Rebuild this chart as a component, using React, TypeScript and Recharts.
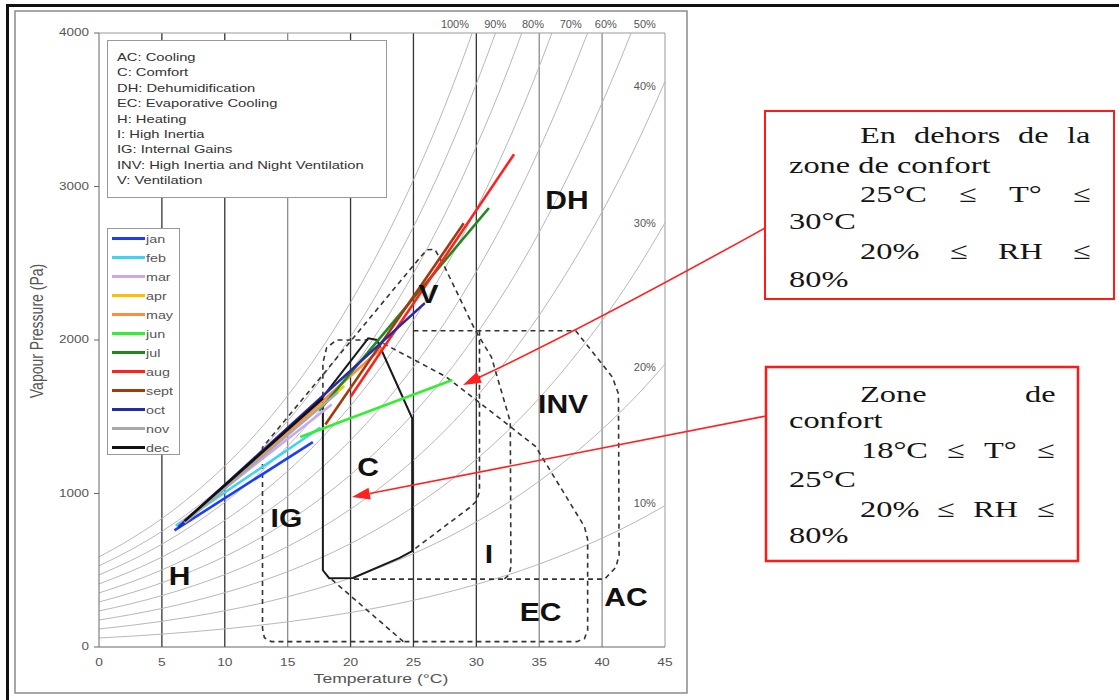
import React from "react"
import {
  ComposedChart,
  Line,
  ReferenceDot,
  ReferenceLine,
  XAxis,
  YAxis,
} from "recharts"

// axes
const tempTicks = [0, 5, 10, 15, 20, 25, 30, 35, 40, 45]
const tempMinorTicks = Array.from({ length: 46 }, (_, i) => i)
const pressureTicks = [0, 1000, 2000, 3000, 4000]
const pressureMinorTicks = Array.from({ length: 41 }, (_, i) => i * 100)

// vertical grid lines, as printed (some darker than others)
const gridDark = [5, 10, 20, 25, 30]
const gridLight = [15, 35, 40]

// 100 % curve (Pa), other RH curves are fractions of it
const satTemps = [0, 2.5, 5, 7.5, 10, 12.5, 15, 17.5, 20, 22.5, 25, 27.5, 30, 32.5, 35, 37.5, 40, 42.5, 45]
const satPressures = [587, 702, 837, 996, 1179, 1391, 1637, 1920, 2245, 2618, 3042, 3524, 4076, 4696, 5403, 6202, 7089, 8083, 9209]
const rhLevels = [10, 20, 30, 40, 50, 60, 70, 80, 90, 100]

// RH labels
const rhTopNames = ["100%", "90%", "80%", "70%", "60%", "50%"]
const rhTopTemps = [28.3, 31.5, 34.5, 37.5, 40.3, 43.4]
const rhTopPressure = 4059
const rhSideNames = ["40%", "30%", "20%", "10%"]
const rhSidePressures = [3654, 2765, 1824, 935]
const rhSideTemp = 43.4

// monthly lines (min temp / max temp ends)
const months = ["jan", "feb", "mar", "apr", "may", "jun", "jul", "aug", "sept", "oct", "nov", "dec"]
const monthColors = ["#1e3cff", "#40d4f4", "#c8a8f0", "#ffc000", "#ff8c40", "#33ee33", "#1e8a1e", "#ff2020", "#a03c10", "#2828a8", "#a8a8a8", "#111111"]
const monthStartT = [6.0, 6.1, 6.5, 7.5, 9.0, 16.0, 17.5, 20.0, 18.0, 6.3, 6.8, 6.8]
const monthStartP = [760, 790, 810, 870, 960, 1368, 1540, 1630, 1450, 780, 810, 820]
const monthEndT = [17.0, 17.6, 18.5, 19.5, 22.5, 28.1, 31.0, 33.0, 29.0, 25.9, 19.0, 17.8]
const monthEndP = [1335, 1430, 1580, 1700, 1950, 1739, 2860, 3210, 2760, 2240, 1660, 1620]

// comfort zone (solid)
const comfortT = [17.8, 21.4, 22.1, 24.9, 24.9, 23.9, 20.2, 18.3, 17.8, 17.8]
const comfortP = [1630, 2011, 2000, 1490, 625, 580, 450, 448, 500, 1630]

// dashed zone boundaries
const dashOuterT = [22.6, 27.6, 30.4, 32.4, 34.7, 38.6, 38.85, 38.85, 38.6, 38.0, 13.7, 13.15, 13.0, 13.0, 25.6, 26.1, 26.7, 27.4, 29.9, 31.2, 32.7, 32.75, 32.6, 32.2]
const dashOuterP = [1978, 1760, 1582, 1455, 1307, 784, 700, 110, 55, 35, 35, 60, 120, 1300, 2545, 2588, 2590, 2490, 2065, 1889, 1467, 523, 470, 442]
const dashInvT = [25.0, 37.9, 40.8, 41.3, 41.35, 41.1, 40.2, 20.2]
const dashInvP = [2060, 2060, 1760, 1650, 600, 520, 442, 442]
const dashInertiaT = [30.25, 30.25, 30.0, 29.5, 24.95]
const dashInertiaP = [2060, 1013, 950, 910, 630]
const dashGainsT = [17.8, 17.8, 18.1, 18.9, 21.4]
const dashGainsP = [1630, 1850, 1950, 2000, 2000]
const dashEvapT = [24.2, 18.5]
const dashEvapP = [35, 440]

// zone labels
const zoneNames = ["DH", "V", "INV", "C", "IG", "I", "H", "EC", "AC"]
const zoneTemps = [37.2, 26.2, 36.9, 21.4, 14.9, 31.0, 6.4, 35.1, 41.9]
const zonePressures = [2908, 2297, 1582, 1173, 837, 605, 458, 225, 320]

const zoneLegend = [
  "AC: Cooling",
  "C: Comfort",
  "DH: Dehumidification",
  "EC: Evaporative Cooling",
  "H: Heating",
  "I: High Inertia",
  "IG: Internal Gains",
  "INV: High Inertia and Night Ventilation",
  "V: Ventilation",
]

const pts = (ts: number[], ps: number[]) => ts.map((t, i) => ({ t, p: ps[i] }))

const rhCurves = rhLevels.map((rh) => ({
  rh,
  data: satTemps.map((t, i) => ({ t, p: (satPressures[i] * rh) / 100 })),
}))

const dashedZones = [
  pts(dashOuterT, dashOuterP),
  pts(dashInvT, dashInvP),
  pts(dashInertiaT, dashInertiaP),
  pts(dashGainsT, dashGainsP),
  pts(dashEvapT, dashEvapP),
]

const SANS = '"Liberation Sans", Arial, sans-serif'
const SERIF = '"Liberation Serif", "Times New Roman", serif'
// the whole figure is stretched sideways
const SX = 1.3

const XTick = ({ x, y, payload }: any) => (
  <text
    transform={`translate(${x},${y + 6}) scale(1.25,1)`}
    textAnchor="middle"
    dominantBaseline="central"
    fontSize={11}
    fontFamily={SANS}
    fill="#555"
  >
    {payload.value}
  </text>
)

const YTick = ({ x, y, payload }: any) => (
  <text
    transform={`translate(${x},${y}) scale(1.35,1)`}
    textAnchor="end"
    dominantBaseline="central"
    fontSize={10}
    fontFamily={SANS}
    fill="#555"
  >
    {payload.value}
  </text>
)

const pointText =
  (text: string, size: number, weight: number, color: string, sx: number) =>
  ({ viewBox }: any) => {
    const cx = viewBox.x + (viewBox.width || 0) / 2
    const cy = viewBox.y + (viewBox.height || 0) / 2
    return (
      <text
        transform={`translate(${cx},${cy}) scale(${sx},1)`}
        textAnchor="middle"
        dominantBaseline="central"
        fontSize={size}
        fontWeight={weight}
        fontFamily={SANS}
        fill={color}
      >
        {text}
      </text>
    )
  }

const arrowHead = (tip: number[], from: number[], len = 18, half = 6) => {
  const dx = tip[0] - from[0]
  const dy = tip[1] - from[1]
  const l = Math.hypot(dx, dy)
  const ux = dx / l
  const uy = dy / l
  const bx = tip[0] - ux * len
  const by = tip[1] - uy * len
  return {
    base: [bx, by],
    points: `${tip[0]},${tip[1]} ${bx - uy * half},${by + ux * half} ${bx + uy * half},${by - ux * half}`,
  }
}

// annotation boxes: words placed as in the justified original
const boxWords: [string, number, number][][] = [
  [["En", 860, 143], ["dehors", 914, 143], ["de", 1018, 143], ["la", 1067, 143]],
  [["zone de confort", 789, 173]],
  [["25°C", 860, 202], ["≤", 959, 202], ["T°", 1009, 202], ["≤", 1073, 202]],
  [["30°C", 789, 229]],
  [["20%", 860, 259], ["≤", 950, 259], ["RH", 998, 259], ["≤", 1073, 259]],
  [["80%", 789, 287]],
  [["Zone", 860, 402], ["de", 1025, 402]],
  [["confort", 789, 428]],
  [["18°C", 861, 458], ["≤", 947, 458], ["T°", 984, 458], ["≤", 1037, 458]],
  [["25°C", 789, 487]],
  [["20%", 860, 517], ["≤", 937, 517], ["RH", 973, 517], ["≤", 1037, 517]],
  [["80%", 789, 543]],
]

export default function App() {
  const a1Start = [765, 228]
  const a1Ctrl = [590, 325]
  const a1Tip = [463, 385]
  const a2Start = [766, 416]
  const a2Tip = [352, 497]
  const h1 = arrowHead(a1Tip, a1Ctrl)
  const h2 = arrowHead(a2Tip, a2Start)

  return (
    <div
      style={{
        position: "absolute",
        left: 0,
        top: 0,
        width: 1119,
        height: 700,
        background: "#fff",
        overflow: "hidden",
        fontFamily: SANS,
      }}
    >
      <div style={{ position: "absolute", left: 0, top: 0 }}>
        <ComposedChart width={700} height={700} margin={{ top: 33, right: 35, bottom: 23, left: 38 }}>
          <XAxis
            xAxisId="minor"
            type="number"
            dataKey="t"
            domain={[0, 45]}
            ticks={tempMinorTicks}
            height={1}
            mirror
            tick={false}
            tickSize={3}
            tickLine={{ stroke: "#777" }}
            axisLine={false}
          />
          <XAxis
            type="number"
            dataKey="t"
            domain={[0, 45]}
            ticks={tempTicks}
            height={30}
            tickLine={false}
            tickSize={6}
            tickMargin={3}
            axisLine={{ stroke: "#666" }}
            tick={<XTick />}
            interval={0}
          />
          <XAxis
            xAxisId="top"
            orientation="top"
            type="number"
            dataKey="t"
            domain={[0, 45]}
            ticks={tempTicks}
            height={1}
            mirror
            tick={false}
            tickSize={4}
            tickLine={{ stroke: "#888" }}
            axisLine={{ stroke: "#999" }}
          />
          <YAxis
            yAxisId="minor"
            type="number"
            domain={[0, 4000]}
            ticks={pressureMinorTicks}
            width={1}
            tick={false}
            tickSize={3}
            tickLine={{ stroke: "#777" }}
            axisLine={false}
          />
          <YAxis
            type="number"
            domain={[0, 4000]}
            ticks={pressureTicks}
            allowDataOverflow
            width={60}
            tickSize={5}
            tickMargin={5}
            tickLine={{ stroke: "#666" }}
            axisLine={{ stroke: "#666" }}
            tick={<YTick />}
            interval={0}
          />

          <ReferenceLine x={45} stroke="#999" strokeWidth={1} />
          {gridDark.map((t) => (
            <ReferenceLine key={`gd${t}`} x={t} stroke="#333" strokeWidth={1.3} />
          ))}
          {gridLight.map((t) => (
            <ReferenceLine key={`gl${t}`} x={t} stroke="#8c8c8c" strokeWidth={1.3} />
          ))}

          {rhCurves.map((c) => (
            <Line
              key={`rh${c.rh}`}
              data={c.data}
              dataKey="p"
              type="monotone"
              stroke="#b8b8b8"
              strokeWidth={1}
              dot={false}
              activeDot={false}
              legendType="none"
              isAnimationActive={false}
            />
          ))}

          {dashedZones.map((d, i) => (
            <Line
              key={`dz${i}`}
              data={d}
              dataKey="p"
              type="linear"
              stroke="#333"
              strokeWidth={1.6}
              strokeDasharray="5 4"
              dot={false}
              activeDot={false}
              legendType="none"
              isAnimationActive={false}
            />
          ))}

          <Line
            data={pts(comfortT, comfortP)}
            dataKey="p"
            type="linear"
            stroke="#1a1a1a"
            strokeWidth={2}
            dot={false}
            activeDot={false}
            legendType="none"
            isAnimationActive={false}
          />

          {months.map((m, i) => (
            <Line
              key={m}
              name={m}
              data={[
                { t: monthStartT[i], p: monthStartP[i] },
                { t: monthEndT[i], p: monthEndP[i] },
              ]}
              dataKey="p"
              type="linear"
              stroke={monthColors[i]}
              strokeWidth={2.6}
              dot={false}
              activeDot={false}
              isAnimationActive={false}
            />
          ))}

          {zoneNames.map((z, i) => (
            <ReferenceDot
              key={z}
              x={zoneTemps[i]}
              y={zonePressures[i]}
              r={0}
              fill="none"
              stroke="none"
              ifOverflow="visible"
              label={pointText(z, 25, 700, "#111", 1.2)}
            />
          ))}
          {rhTopNames.map((n, i) => (
            <ReferenceDot
              key={n}
              x={rhTopTemps[i]}
              y={rhTopPressure}
              r={0}
              fill="none"
              stroke="none"
              ifOverflow="visible"
              label={pointText(n, 11, 400, "#555", 1)}
            />
          ))}
          {rhSideNames.map((n, i) => (
            <ReferenceDot
              key={n}
              x={rhSideTemp}
              y={rhSidePressures[i]}
              r={0}
              fill="none"
              stroke="none"
              ifOverflow="visible"
              label={pointText(n, 11, 400, "#555", 1)}
            />
          ))}
        </ComposedChart>
      </div>

      {/* zone legend */}
      <div
        style={{
          position: "absolute",
          left: 107,
          top: 40,
          width: 280,
          height: 158,
          boxSizing: "border-box",
          border: "1px solid #999",
          background: "#fff",
        }}
      >
        {zoneLegend.map((s, i) => (
          <div
            key={s}
            style={{
              position: "absolute",
              left: 9,
              top: 16 + 15.4 * i - 7,
              height: 14,
              lineHeight: "14px",
              fontSize: 11.5,
              color: "#333",
              whiteSpace: "nowrap",
              transform: "scaleX(1.28)",
              transformOrigin: "0 50%",
            }}
          >
            {s}
          </div>
        ))}
      </div>

      {/* month legend */}
      <div
        style={{
          position: "absolute",
          left: 107,
          top: 228,
          width: 73,
          height: 227,
          boxSizing: "border-box",
          border: "1px solid #999",
          background: "#fff",
        }}
      >
        {months.map((m, i) => (
          <div key={m}>
            <div
              style={{
                position: "absolute",
                left: 4,
                top: 9.5 + 19 * i - 1.5,
                width: 33,
                height: 3,
                background: monthColors[i],
              }}
            />
            <div
              style={{
                position: "absolute",
                left: 38,
                top: 9.5 + 19 * i - 7,
                height: 14,
                lineHeight: "14px",
                fontSize: 11,
                color: "#555",
                transform: "scaleX(1.3)",
                transformOrigin: "0 50%",
              }}
            >
              {m}
            </div>
          </div>
        ))}
      </div>

      {/* axis titles */}
      <div
        style={{
          position: "absolute",
          left: 381,
          top: 678,
          fontSize: 13.5,
          color: "#555",
          whiteSpace: "nowrap",
          transform: `translate(-50%,-50%) scaleX(${SX})`,
        }}
      >
        Temperature (°C)
      </div>
      <div
        style={{
          position: "absolute",
          left: 36,
          top: 331,
          fontSize: 14,
          color: "#555",
          whiteSpace: "nowrap",
          transform: `translate(-50%,-50%) rotate(-90deg) scale(1,${SX})`,
        }}
      >
        Vapour Pressure (Pa)
      </div>

      <svg
        width={1119}
        height={700}
        style={{ position: "absolute", left: 0, top: 0, pointerEvents: "none" }}
      >
        {/* frames */}
        <line x1={7.5} y1={5.5} x2={1119} y2={5.5} stroke="#111" strokeWidth={3} />
        <line x1={7.5} y1={4} x2={7.5} y2={700} stroke="#111" strokeWidth={3} />
        <rect x={15} y={11} width={672} height={682} fill="none" stroke="#8a8a8a" strokeWidth={1.5} />

        {/* annotation boxes */}
        <rect x={765} y={111} width={349} height={188} fill="none" stroke="#ff1a1a" strokeWidth={2} />
        <rect x={766} y={367} width={312} height={194} fill="none" stroke="#ff1a1a" strokeWidth={2.5} />
        {boxWords.flat().map(([w, x, y], i) => (
          <text
            key={i}
            transform={`translate(${x},${y}) scale(1.35,1)`}
            fontFamily={SERIF}
            fontSize={24}
            fill="#151515"
          >
            {w}
          </text>
        ))}

        {/* arrows */}
        <path
          d={`M${a1Start[0]},${a1Start[1]} Q${a1Ctrl[0]},${a1Ctrl[1]} ${h1.base[0]},${h1.base[1]}`}
          fill="none"
          stroke="#ff2020"
          strokeWidth={1.6}
        />
        <polygon points={h1.points} fill="#ff2020" />
        <line
          x1={a2Start[0]}
          y1={a2Start[1]}
          x2={h2.base[0]}
          y2={h2.base[1]}
          stroke="#ff2020"
          strokeWidth={1.6}
        />
        <polygon points={h2.points} fill="#ff2020" />
      </svg>
    </div>
  )
}
